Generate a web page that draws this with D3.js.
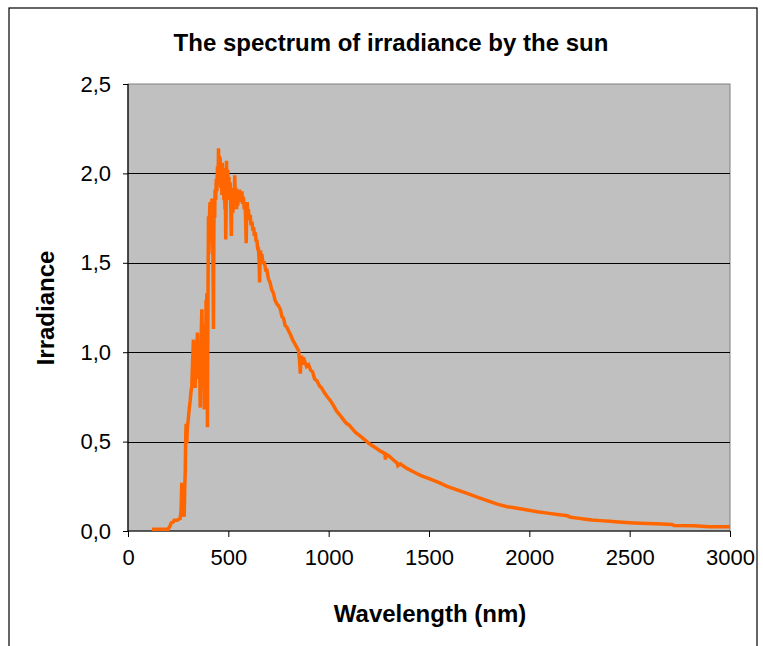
<!DOCTYPE html>
<html>
<head>
<meta charset="utf-8">
<script src="https://cdn.jsdelivr.net/npm/d3@7"></script>
<style>
  html, body { margin: 0; padding: 0; background: #fff; }
  svg { display: block; }
  text { font-family: "Liberation Sans", Arial, Helvetica, sans-serif; }
</style>
</head>
<body>
<svg id="chart" width="763" height="646"></svg>
<script>
// ---- data ----
const titleText = "The spectrum of irradiance by the sun";
const xLabel = "Wavelength (nm)";
const yLabel = "Irradiance";
const xTicks = [0, 500, 1000, 1500, 2000, 2500, 3000];
const yTicks = [0, 0.5, 1.0, 1.5, 2.0, 2.5];

const wavelength = [
  119, 150, 200, 210, 215, 225, 230, 245, 250, 260, 263, 265, 268, 272, 275,
  278, 280, 283, 285, 288, 290, 293, 296, 300, 305, 310, 314, 318, 322, 326,
  330, 334, 337, 340, 343, 346, 349, 353, 356, 360, 362, 364, 366, 368, 371,
  374, 377, 380, 383, 385, 387, 389, 391, 393, 396, 399, 401, 403, 405, 407,
  409, 411, 413, 415, 418, 420, 423, 426, 428, 430, 432, 434, 437, 440, 443,
  446, 449, 451, 453, 455, 457, 459, 462, 465, 468, 470, 473, 475, 478, 480,
  483, 485, 487, 489, 491, 494, 497, 500, 503, 506, 509, 512, 515, 517, 520,
  523, 526, 529, 532, 535, 538, 541, 544, 547, 550, 553, 556, 559, 562, 565,
  568, 571, 575, 579, 583, 586, 589, 591, 594, 597, 600, 604, 609, 613, 618,
  622, 626, 630, 635, 638, 642, 646, 650, 653, 656, 658, 660, 664, 667, 672,
  680, 686, 692, 700, 708, 716, 725, 733, 742, 750, 759, 767, 775, 783, 792,
  800, 809, 820, 830, 840, 850, 855, 859, 862, 865, 870, 875, 880, 890, 900,
  910, 920, 930, 942, 955, 965, 975, 990, 1008, 1020, 1040, 1055, 1075, 1090, 1100,
  1115, 1135, 1158, 1180, 1200, 1220, 1241, 1260, 1270, 1280, 1283, 1286, 1300, 1320, 1341,
  1345, 1357, 1390, 1424, 1460, 1507, 1550, 1590, 1640, 1690, 1740, 1790, 1840, 1890, 1940,
  1990, 2040, 2090, 2140, 2190, 2206, 2240, 2272, 2310, 2355, 2400, 2446, 2500, 2554, 2630,
  2712, 2720, 2820, 2895, 3000
];
const irradiance = [
  0.01, 0.01, 0.01, 0.03, 0.045, 0.05, 0.06, 0.06, 0.065, 0.07, 0.10, 0.13, 0.27, 0.18, 0.15,
  0.09, 0.08, 0.25, 0.32, 0.55, 0.60, 0.49, 0.58, 0.62, 0.68, 0.73, 0.78, 0.81, 0.95, 1.07,
  0.90, 0.80, 0.90, 0.95, 1.02, 1.11, 0.95, 0.85, 1.00, 0.69, 0.85, 1.00, 1.15, 1.24, 1.05,
  0.90, 1.15, 0.68, 1.05, 1.10, 0.95, 1.29, 1.20, 1.33, 0.58, 1.40, 1.76, 1.55, 1.65, 1.80,
  1.84, 1.68, 1.78, 1.72, 1.86, 1.80, 1.55, 1.13, 1.70, 1.82, 1.75, 1.91, 1.85, 1.97, 1.90,
  2.04, 1.95, 2.14, 2.02, 2.10, 1.96, 2.09, 1.92, 2.05, 1.88, 2.06, 1.93, 2.02, 1.85, 2.03,
  1.80, 1.92, 1.63, 1.80, 2.07, 1.88, 2.02, 1.92, 1.98, 1.85, 1.95, 1.82, 1.65, 1.80, 1.92,
  1.78, 1.90, 1.82, 1.99, 1.83, 1.92, 1.80, 1.88, 1.82, 1.90, 1.84, 1.91, 1.85, 1.89, 1.84,
  1.90, 1.83, 1.87, 1.80, 1.84, 1.75, 1.61, 1.78, 1.84, 1.78, 1.80, 1.74, 1.77, 1.71, 1.73,
  1.68, 1.70, 1.65, 1.67, 1.62, 1.63, 1.58, 1.58, 1.52, 1.39, 1.52, 1.57, 1.52, 1.55, 1.50,
  1.50, 1.46, 1.46, 1.41, 1.39, 1.35, 1.33, 1.29, 1.27, 1.26, 1.24, 1.20, 1.19, 1.15, 1.14,
  1.12, 1.10, 1.07, 1.05, 1.03, 1.01, 0.95, 0.88, 0.97, 0.98, 0.93, 0.97, 0.95, 0.92, 0.93,
  0.90, 0.89, 0.85, 0.84, 0.81, 0.80, 0.78, 0.755, 0.73, 0.71, 0.67, 0.65, 0.62, 0.60, 0.595,
  0.575, 0.55, 0.53, 0.51, 0.49, 0.475, 0.46, 0.445, 0.44, 0.43, 0.40, 0.43, 0.42, 0.40, 0.38,
  0.365, 0.375, 0.35, 0.33, 0.31, 0.29, 0.27, 0.25, 0.23, 0.21, 0.19, 0.17, 0.15, 0.136, 0.127,
  0.118, 0.108, 0.10, 0.092, 0.085, 0.077, 0.072, 0.067, 0.062, 0.058, 0.054, 0.05, 0.046, 0.043, 0.04,
  0.037, 0.031, 0.030, 0.024, 0.024
];

// ---- layout ----
const svg = d3.select("#chart");
const plot = { left: 128, right: 730, top: 84, bottom: 531 };

const x = d3.scaleLinear().domain([0, 3000]).range([plot.left, plot.right]);
const y = d3.scaleLinear().domain([0, 2.5]).range([plot.bottom, plot.top]);
const fmtY = v => d3.format(".1f")(v).replace(".", ",");

// outer frame
svg.append("rect")
  .attr("x", 9).attr("y", 8).attr("width", 748).attr("height", 700)
  .attr("fill", "none").attr("stroke", "#000").attr("stroke-width", 1.2);

// plot area
svg.append("rect")
  .attr("x", plot.left).attr("y", plot.top)
  .attr("width", plot.right - plot.left).attr("height", plot.bottom - plot.top)
  .attr("fill", "#c0c0c0").attr("stroke", "#808080").attr("stroke-width", 1);

// gridlines
svg.append("g").selectAll("line")
  .data(yTicks.filter(d => d > 0 && d < 2.5))
  .join("line")
  .attr("x1", plot.left).attr("x2", plot.right)
  .attr("y1", d => Math.round(y(d)) + 0.5).attr("y2", d => Math.round(y(d)) + 0.5)
  .attr("stroke", "#000").attr("stroke-width", 1);

// axes
const yAxis = d3.axisLeft(y).tickValues(yTicks).tickFormat(fmtY).tickSize(5).tickPadding(12);
const gy = svg.append("g").attr("transform", `translate(${plot.left},0)`).call(yAxis);
const xAxis = d3.axisBottom(x).tickValues(xTicks).tickFormat(d3.format("d")).tickSize(6).tickPadding(12);
const gx = svg.append("g").attr("transform", `translate(0,${plot.bottom})`).call(xAxis);
[gx, gy].forEach(g => {
  g.select(".domain").attr("stroke", "#000").attr("stroke-width", 1.2);
  g.selectAll(".tick line").attr("stroke", "#000");
  g.selectAll(".tick text").attr("fill", "#000")
    .style("font-family", '"Liberation Sans", Arial, sans-serif')
    .style("font-size", "22px");
});
gy.select(".domain").attr("d", `M0,${plot.top}V${plot.bottom}`);
gx.select(".domain").attr("d", `M${plot.left},0H${plot.right}`);

// series line
const line = d3.line().x((d, i) => x(wavelength[i])).y((d, i) => y(irradiance[i]));
svg.append("path")
  .datum(wavelength)
  .attr("d", line)
  .attr("fill", "none")
  .attr("stroke", "#ff6600")
  .attr("stroke-width", 3.5)
  .attr("stroke-linejoin", "miter")
  .attr("stroke-miterlimit", 2);

// title
svg.append("text")
  .attr("x", 391).attr("y", 51)
  .attr("text-anchor", "middle")
  .style("font-size", "24px").style("font-weight", "bold")
  .text(titleText);

// axis titles
svg.append("text")
  .attr("x", 430).attr("y", 622)
  .attr("text-anchor", "middle")
  .style("font-size", "24px").style("font-weight", "bold")
  .text(xLabel);

svg.append("text")
  .attr("transform", "translate(54,308) rotate(-90)")
  .attr("text-anchor", "middle")
  .style("font-size", "24px").style("font-weight", "bold")
  .text(yLabel);
</script>
</body>
</html>
